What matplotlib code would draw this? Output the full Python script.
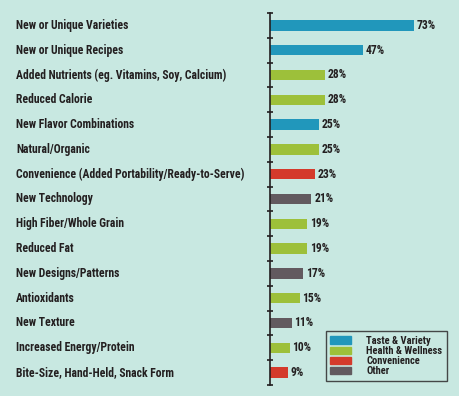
import matplotlib.pyplot as plt
import matplotlib.transforms as mtransforms
from matplotlib import font_manager
from matplotlib.patches import Patch
import numpy as np

categories = [
    'New or Unique Varieties',
    'New or Unique Recipes',
    'Added Nutrients (eg. Vitamins, Soy, Calcium)',
    'Reduced Calorie',
    'New Flavor Combinations',
    'Natural/Organic',
    'Convenience (Added Portability/Ready-to-Serve)',
    'New Technology',
    'High Fiber/Whole Grain',
    'Reduced Fat',
    'New Designs/Patterns',
    'Antioxidants',
    'New Texture',
    'Increased Energy/Protein',
    'Bite-Size, Hand-Held, Snack Form',
]
values = [73, 47, 28, 28, 25, 25, 23, 21, 19, 19, 17, 15, 11, 10, 9]
groups = ['taste', 'taste', 'health', 'health', 'taste', 'health', 'conv',
          'other', 'health', 'health', 'other', 'health', 'other', 'health', 'conv']
group_names = {'taste': 'Taste & Variety', 'health': 'Health & Wellness',
               'conv': 'Convenience', 'other': 'Other'}
colors = {'taste': '#2197bb', 'health': '#9dc03a', 'conv': '#d43a2b', 'other': '#625a5f'}

bg = '#c8e8e1'
txt = '#231f20'

# pick a condensed face if one is installed
installed = {f.name for f in font_manager.fontManager.ttflist}
fam = 'DejaVu Sans'
size = 6.3
for name, sz in [('Liberation Sans Narrow', 8.6), ('DejaVu Sans Condensed', 7.0),
                 ('Roboto Condensed', 8.4), ('Open Sans Condensed', 8.4)]:
    if name in installed:
        fam, size = name, sz
        break
font = [fam, 'DejaVu Sans']

fig = plt.figure(figsize=(4.6, 3.96), dpi=100, facecolor=bg)
ax = fig.add_axes([270 / 460, 1 - 385 / 396, 190 / 460, 372 / 396])
ax.set_facecolor(bg)

y = np.arange(len(categories))
ax.barh(y, values, height=0.42, color=[colors[g] for g in groups])
ax.set_ylim(len(categories) - 0.5, -0.5)
ax.set_xlim(0, 190 / 1.97)

for s in ['top', 'right', 'bottom']:
    ax.spines[s].set_visible(False)
ax.spines['left'].set_color(txt)
ax.spines['left'].set_linewidth(1.2)
ax.set_xticks([])
ax.set_yticks(np.arange(-0.5, len(categories), 1))
ax.set_yticklabels([])
ax.tick_params(axis='y', direction='inout', length=5, width=1.2, color=txt)

trans = mtransforms.blended_transform_factory(fig.transFigure, ax.transData)
for yi, (cat, v) in enumerate(zip(categories, values)):
    ax.text(16 / 460, yi, cat, transform=trans, ha='left', va='center',
            fontsize=size, fontweight='bold', color=txt, family=font)
    ax.text(v + 1.4, yi, f'{v}%', ha='left', va='center',
            fontsize=size, fontweight='bold', color=txt, family=font)

handles = [Patch(color=colors[k], label=group_names[k]) for k in ['taste', 'health', 'conv', 'other']]
leg = fig.legend(handles=handles, loc='lower right', bbox_to_anchor=(447 / 460, 15 / 396),
                 frameon=True, fancybox=False, edgecolor=txt, facecolor=bg,
                 prop={'family': font, 'weight': 'bold', 'size': size * 0.9},
                 handlelength=2.0, handleheight=0.7, labelspacing=0.02,
                 borderpad=0.45, handletextpad=1.4, borderaxespad=0)
leg.get_frame().set_linewidth(1.0)
for t in leg.get_texts():
    t.set_color(txt)

plt.savefig('out.png', dpi=100, facecolor=bg)
plt.close(fig)
